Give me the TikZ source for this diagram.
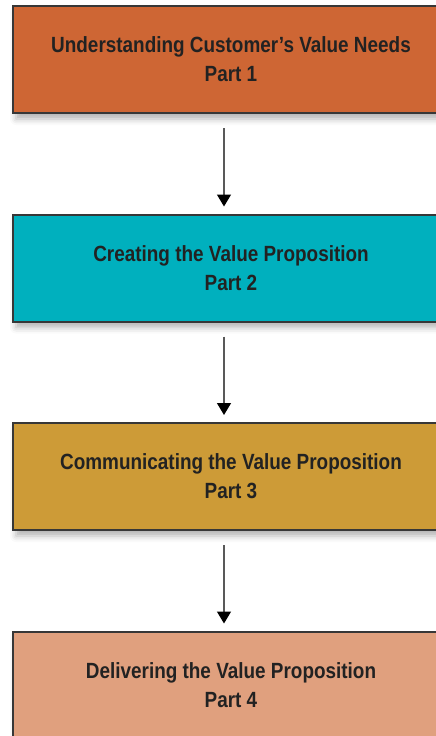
\documentclass[tikz,border=0pt]{standalone}
\usepackage{fontspec}
\setmainfont[FakeStretch=0.86]{Liberation Sans}
\usetikzlibrary{arrows.meta,shadows.blur}

\definecolor{partone}{RGB}{206,102,52}
\definecolor{parttwo}{RGB}{0,176,190}
\definecolor{partthree}{RGB}{205,155,55}
\definecolor{partfour}{RGB}{224,160,126}
\definecolor{boxline}{RGB}{55,55,55}
\definecolor{boxtext}{RGB}{34,34,34}

\begin{document}
\begin{tikzpicture}[x=1pt,y=-1pt,
    partbox/.style={draw=boxline, line width=2pt, minimum width=436pt, minimum height=107pt,
        align=center, text=boxtext, font=\fontsize{22}{29}\selectfont\bfseries,
        blur shadow={shadow xshift=3pt, shadow yshift=-6pt, shadow blur radius=6pt, shadow opacity=30}},
    flow/.style={draw=black!65, line width=1.2pt, -{Triangle[width=14pt,length=12pt,color=black]},
        shorten <=14pt, shorten >=7pt}]
    \useasboundingbox (0,0) rectangle (436,736);
    \node[partbox, fill=partone] (p1) at (231,59.5) {Understanding Customer’s Value Needs\\Part 1};
    \node[partbox, fill=parttwo] (p2) at (231,268) {Creating the Value Proposition\\Part 2};
    \node[partbox, fill=partthree] (p3) at (231,476.5) {Communicating the Value Proposition\\Part 3};
    \node[partbox, fill=partfour] (p4) at (231,685) {Delivering the Value Proposition\\Part 4};
    % connectors
    \draw[flow] ([xshift=-7pt]p1.south) -- ([xshift=-7pt]p2.north);
    \draw[flow] ([xshift=-7pt]p2.south) -- ([xshift=-7pt]p3.north);
    \draw[flow] ([xshift=-7pt]p3.south) -- ([xshift=-7pt]p4.north);
\end{tikzpicture}
\end{document}
